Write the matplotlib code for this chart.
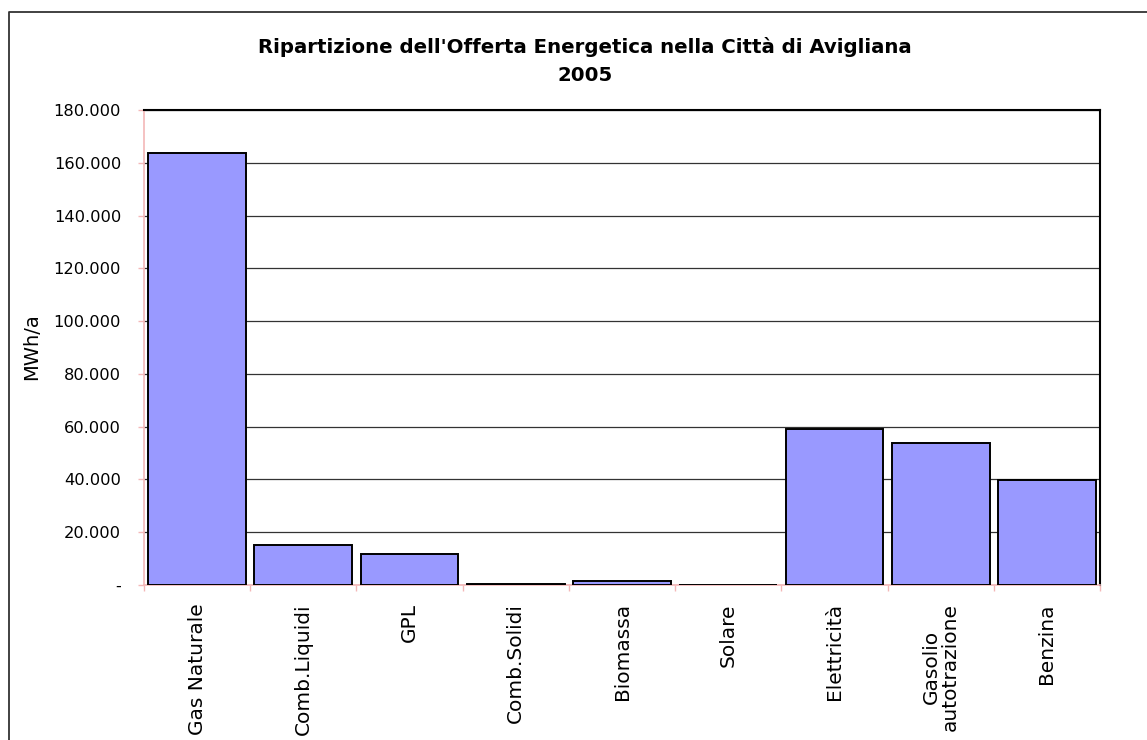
import matplotlib
matplotlib.use("Agg")
import matplotlib.pyplot as plt
from matplotlib.lines import Line2D
from matplotlib.ticker import FuncFormatter, MultipleLocator

categories = ["Gas Naturale", "Comb.Liquidi", "GPL", "Comb.Solidi", "Biomassa",
              "Solare", "Elettricità", "Gasolio\nautotrazione", "Benzina"]
values = [163700, 15000, 11600, 500, 1600, 100, 59100, 53900, 39800]
title = "Ripartizione dell'Offerta Energetica nella Città di Avigliana\n2005"
ylabel = "MWh/a"

plt.rcParams['font.family'] = ['DejaVu Sans']

W, H = 1147, 740
fig = plt.figure(figsize=(W / 100, H / 100), dpi=100)
ax = fig.add_axes([144 / W, 1 - 585 / H, (1100 - 144) / W, (585 - 110) / H])

x = list(range(len(categories)))
ax.bar(x, values, width=0.92, color="#9999FF", edgecolor="black", linewidth=1.4, zorder=3)
ax.set_xlim(-0.5, len(categories) - 0.5)
ax.set_ylim(0, 180000)
ax.yaxis.set_major_locator(MultipleLocator(20000))

def fmt(v, pos):
    if abs(v) < 1e-9:
        return "-"
    return f"{int(round(v)):,}".replace(",", ".")

ax.yaxis.set_major_formatter(FuncFormatter(fmt))
ax.grid(axis="y", color="#333333", linewidth=0.9, zorder=0)

ax.set_xticks([i - 0.5 for i in range(len(categories) + 1)])
ax.set_xticklabels([])
ax.set_xticks(x, minor=True)
ax.set_xticklabels(categories, minor=True, rotation=90, fontsize=14.5, va="top", ha="center",
                   multialignment="center", linespacing=1.0)
ax.tick_params(axis="x", which="minor", length=0, pad=13)
ax.tick_params(axis="x", which="major", length=4.5, color="#F4B8B8", width=1)
ax.tick_params(axis="y", length=4.5, color="#F4B8B8", width=1, labelsize=11.7, pad=12)

for s in ["left", "bottom"]:
    ax.spines[s].set_color("#F4B8B8")
    ax.spines[s].set_linewidth(1.2)
for s in ["right", "top"]:
    ax.spines[s].set_color("black")
    ax.spines[s].set_linewidth(1.5)

ax.set_ylabel(ylabel, fontsize=14)
ax.yaxis.set_label_coords(-(144 - 41) / (1100 - 144), 1 - (347 - 110) / 475)

fig.text(585 / W, 1 - 61 / H, title, ha="center", va="center", fontsize=14.2,
         fontweight="bold", linespacing=1.55)

border_x = 9 / W
border_y = 1 - 12 / H
fig.add_artist(Line2D([border_x, border_x, 1.0], [0.0, border_y, border_y],
                      transform=fig.transFigure, color="#333333", linewidth=1.3))

fig.savefig("out.png", dpi=100)
